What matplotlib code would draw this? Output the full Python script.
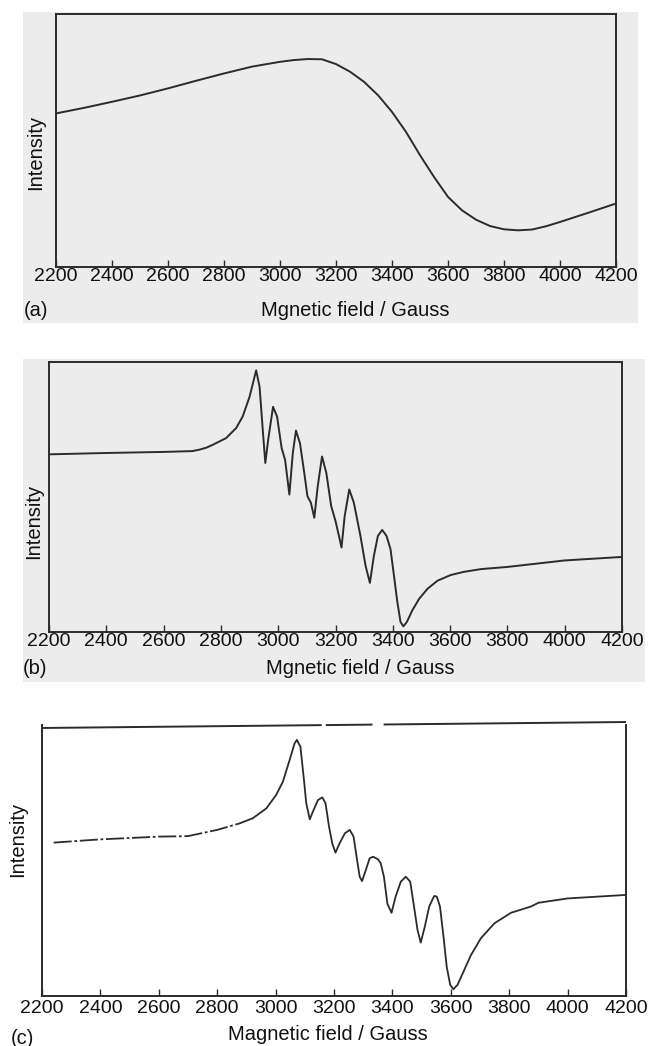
import matplotlib
matplotlib.use("Agg")
import matplotlib.pyplot as plt
from matplotlib.patches import Rectangle

plt.rcParams['font.family'] = ['Liberation Sans', 'DejaVu Sans']

# ---------------- data ----------------
ticks = [2200, 2400, 2600, 2800, 3000, 3200, 3400, 3600, 3800, 4000, 4200]
tick_labels = [str(t) for t in ticks]

# panel (a)
field_a = [2200, 2300, 2400, 2500, 2600, 2700, 2800, 2900, 3000, 3050, 3100,
           3150, 3200, 3250, 3300, 3350, 3400, 3450, 3500, 3550, 3600, 3650,
           3700, 3750, 3800, 3850, 3900, 3950, 4000, 4100, 4200]
int_a = [0.607, 0.629, 0.653, 0.678, 0.706, 0.736, 0.765, 0.792, 0.811, 0.818,
         0.822, 0.821, 0.802, 0.772, 0.732, 0.679, 0.613, 0.534, 0.442, 0.356,
         0.277, 0.224, 0.187, 0.162, 0.149, 0.145, 0.148, 0.161, 0.178, 0.214,
         0.251]

# panel (b)
field_b = [2200, 2400, 2600, 2700, 2724, 2750, 2771, 2818, 2853, 2876, 2900,
           2923, 2935, 2947, 2955, 2965, 2982, 2996, 3012, 3024, 3039, 3051,
           3062, 3076, 3091, 3102, 3114, 3126, 3138, 3153, 3168, 3185, 3200,
           3212, 3221, 3232, 3248, 3264, 3287, 3305, 3320, 3334, 3348, 3363,
           3378, 3392, 3404, 3416, 3427, 3437, 3449, 3468, 3492, 3521, 3556,
           3602, 3649, 3708, 3800, 3900, 4000, 4200]
int_b = [0.658, 0.663, 0.667, 0.670, 0.675, 0.683, 0.693, 0.718, 0.755, 0.798,
         0.871, 0.969, 0.908, 0.736, 0.626, 0.712, 0.834, 0.798, 0.681, 0.638,
         0.509, 0.663, 0.746, 0.699, 0.589, 0.503, 0.479, 0.423, 0.540, 0.650,
         0.589, 0.466, 0.411, 0.356, 0.313, 0.429, 0.528, 0.479, 0.356, 0.245,
         0.182, 0.282, 0.356, 0.378, 0.356, 0.307, 0.209, 0.110, 0.037, 0.021,
         0.037, 0.080, 0.123, 0.160, 0.190, 0.211, 0.223, 0.233, 0.241, 0.253,
         0.265, 0.278]

# panel (c)
field_c = [2240, 2400, 2600, 2700, 2800, 2877, 2922, 2968, 3002, 3025, 3048,
           3065, 3073, 3085, 3096, 3105, 3117, 3130, 3145, 3160, 3171, 3183,
           3194, 3205, 3219, 3237, 3254, 3267, 3279, 3288, 3296, 3309, 3322,
           3334, 3351, 3360, 3371, 3383, 3397, 3411, 3429, 3446, 3461, 3474,
           3486, 3497, 3511, 3526, 3543, 3552, 3563, 3575, 3586, 3598, 3609,
           3623, 3646, 3669, 3703, 3749, 3806, 3874, 3900, 4000, 4200]
int_c = [0.566, 0.578, 0.588, 0.590, 0.613, 0.637, 0.656, 0.692, 0.742, 0.791,
         0.871, 0.932, 0.945, 0.920, 0.809, 0.711, 0.652, 0.686, 0.723, 0.733,
         0.711, 0.625, 0.563, 0.529, 0.563, 0.600, 0.613, 0.588, 0.502, 0.440,
         0.424, 0.465, 0.508, 0.514, 0.504, 0.490, 0.440, 0.340, 0.307, 0.367,
         0.422, 0.440, 0.422, 0.330, 0.244, 0.197, 0.256, 0.330, 0.369, 0.367,
         0.330, 0.219, 0.108, 0.041, 0.025, 0.041, 0.096, 0.151, 0.213, 0.268,
         0.307, 0.330, 0.344, 0.360, 0.373]

label_ab = "Mgnetic field / Gauss"
label_c = "Magnetic field / Gauss"
ylabel = "Intensity"
panel_tags = ["(a)", "(b)", "(c)"]

# ---------------- layout ----------------
W, H = 656, 1046
fig = plt.figure(figsize=(W / 100, H / 100), dpi=100)
fig.patch.set_facecolor('white')

LC = '#2b2b2b'
BG = '#ececec'


def fx(px):
    return px / W


def fy(py):
    return 1 - py / H


def add_axes(l, t, r, b):
    return fig.add_axes([fx(l), fy(b), fx(r) - fx(l), (b - t) / H])


# gray scanned backgrounds for (a) and (b)
for (l, t, r, b) in [(23, 12, 638, 323), (23, 359, 645, 682)]:
    fig.patches.append(Rectangle((fx(l), fy(b)), fx(r) - fx(l), (b - t) / H,
                                 transform=fig.transFigure, facecolor=BG,
                                 edgecolor='none', zorder=-5))

ax_a = add_axes(56, 14, 616, 267)
ax_b = add_axes(49, 362, 622, 632)
ax_c = add_axes(42, 725, 626, 996)

for ax in (ax_a, ax_b, ax_c):
    ax.set_facecolor('none')
    ax.set_xlim(2200, 4200)
    ax.set_ylim(0, 1)
    ax.set_xticks(ticks)
    ax.set_xticklabels(tick_labels)
    ax.set_yticks([])
    ax.tick_params(axis='x', direction='in', length=5, width=1.0,
                   color=LC, labelcolor='#111111', labelsize=14, pad=1)
    for s in ax.spines.values():
        s.set_color(LC)
        s.set_linewidth(1.4)

ax_c.tick_params(axis='x', pad=3)

ax_a.plot(field_a, int_a, color=LC, lw=1.4, solid_joinstyle='round')
ax_b.plot(field_b, int_b, color=LC, lw=1.4, solid_joinstyle='round')

# panel (c): left portion appears broken (dash-dot) in the scan
split = 6
ax_c.plot(field_c[:split + 1], int_c[:split + 1], color=LC, lw=1.3,
          dashes=(10, 1.5, 1.5, 1.5))
ax_c.plot(field_c[split:], int_c[split:], color=LC, lw=1.3,
          solid_joinstyle='round')

# top spine of (c) slightly tilted and broken
ax_c.spines['top'].set_visible(False)
y_l, y_r = 1.011 - 0.022, 1.011
def ytop(x):
    return y_l + (y_r - y_l) * x
for (x0, x1) in [(0.0, 0.479), (0.486, 0.566), (0.585, 1.0)]:
    ax_c.plot([x0, x1], [ytop(x0), ytop(x1)], transform=ax_c.transAxes,
              color=LC, lw=1.4, clip_on=False, solid_capstyle='butt')

# texts
fs = 14.5
fig.text(fx(36), fy(152), ylabel, rotation=90, ha='center', va='center', fontsize=fs, color='#111111')
fig.text(fx(34), fy(521), ylabel, rotation=90, ha='center', va='center', fontsize=fs, color='#111111')
fig.text(fx(18), fy(839), ylabel, rotation=90, ha='center', va='center', fontsize=fs, color='#111111')

fig.text(fx(355), fy(310), label_ab, ha='center', va='center', fontsize=fs, color='#111111')
fig.text(fx(360), fy(668), label_ab, ha='center', va='center', fontsize=fs, color='#111111')
fig.text(fx(328), fy(1035), label_c, ha='center', va='center', fontsize=fs, color='#111111')

fig.text(fx(36), fy(310), panel_tags[0], ha='center', va='center', fontsize=fs, color='#111111')
fig.text(fx(35), fy(669), panel_tags[1], ha='center', va='center', fontsize=fs, color='#111111')
fig.text(fx(22), fy(1038), panel_tags[2], ha='center', va='center', fontsize=fs, color='#111111')

fig.savefig("out.png", dpi=100)
